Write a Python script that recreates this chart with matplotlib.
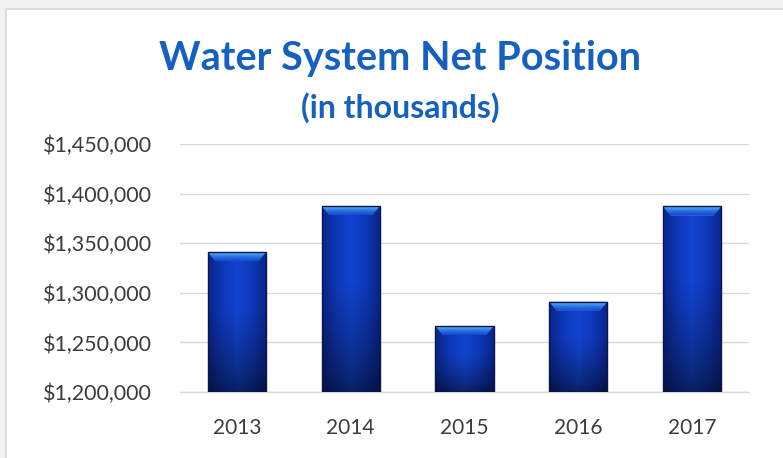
import numpy as np
import matplotlib
matplotlib.use('Agg')
import matplotlib.pyplot as plt
from matplotlib.patches import Rectangle, Polygon
from matplotlib.colors import LinearSegmentedColormap
from matplotlib.ticker import FuncFormatter

years = ['2013', '2014', '2015', '2016', '2017']
net_position = [1341000, 1387500, 1266500, 1291000, 1387000]
y_ticks = [1200000, 1250000, 1300000, 1350000, 1400000, 1450000]

plt.rcParams['font.family'] = ['Lato', 'DejaVu Sans']

fig = plt.figure(figsize=(7.83, 4.58), dpi=100)
fig.patch.set_facecolor('#f2f2f4')
# white chart card with faint border
card = Rectangle((6 / 783, -0.05), 1.0, 1 - 9 / 458 + 0.05,
                 transform=fig.transFigure, facecolor='white',
                 edgecolor='#d8d8dc', linewidth=1.2, zorder=-5)
fig.patches.append(card)

ax = fig.add_axes([180 / 783, 1 - 392 / 458, 569 / 783, 248 / 458])
ax.set_facecolor('none')
ax.set_zorder(2)

x = np.arange(len(years))
width = 0.51
bars = ax.bar(x, net_position, width=width, color='#0c2a8a',
              edgecolor='none', zorder=3)

ymin, ymax = y_ticks[0], y_ticks[-1]

# body shading: slightly darker sides, bright centre, navy toward the base
body = LinearSegmentedColormap.from_list('body', ['#0a2488', '#0e38b8', '#1244d0', '#0e38b8', '#0a2488'])
xs = np.linspace(0, 1, 200)
ys = np.linspace(0, 1, 100)[:, None]
shade = 0.45 + 0.55 * np.clip(ys / 0.6, 0, 1) ** 0.7
grad = body(xs)[None, :, :3] * shade[:, :, None]
bevel_cmap = LinearSegmentedColormap.from_list('bevel', ['#1446d0', '#2a74e2', '#62b4f6'])
bevel_img = np.repeat(bevel_cmap(np.linspace(0, 1, 50))[:, None, :3], 2, axis=1)

for b, v in zip(bars, net_position):
    x0 = b.get_x()
    w = b.get_width()
    im = ax.imshow(grad, extent=(x0, x0 + w, ymin, v), origin='lower',
                   aspect='auto', zorder=3.5, interpolation='bilinear')
    im.set_clip_path(b)
    # bevelled top edge
    bh = 9000
    inset = w * 0.13
    top = Polygon([(x0, v), (x0 + w, v), (x0 + w - inset, v - bh), (x0 + inset, v - bh)],
                  closed=True, facecolor='#3f8fe8', edgecolor='none', zorder=4)
    ax.add_patch(top)
    bim = ax.imshow(bevel_img, extent=(x0, x0 + w, v - bh, v), origin='lower',
                    aspect='auto', zorder=4.2, interpolation='bilinear')
    bim.set_clip_path(top)
    ax.add_patch(Rectangle((x0, ymin), w, v - ymin, facecolor='none',
                           edgecolor='#0a1650', linewidth=1.0, zorder=5))

ax.set_ylim(ymin, ymax)
ax.set_xlim(-0.5, len(years) - 0.5)
ax.set_yticks(y_ticks)
ax.yaxis.set_major_formatter(FuncFormatter(lambda v, p: '${:,.0f}'.format(v)))
ax.set_xticks(x)
ax.set_xticklabels(years)
ax.grid(axis='y', color='#d9d9d9', linewidth=1.0, zorder=0)
ax.set_axisbelow(True)
for s in ['top', 'right', 'left']:
    ax.spines[s].set_visible(False)
ax.spines['bottom'].set_color('#d9d9d9')
ax.spines['bottom'].set_linewidth(1.0)
ax.tick_params(axis='both', length=0, colors='#3c3c3c')
ax.tick_params(axis='y', pad=20, labelsize=15.5)
ax.tick_params(axis='x', pad=19, labelsize=15)

fig.text(0.511, 1 - 70 / 458, 'Water System Net Position', ha='center', va='baseline',
         fontsize=28.5, fontweight='bold', color='#1660c0')
fig.text(0.511, 1 - 118 / 458, '(in thousands)', ha='center', va='baseline',
         fontsize=23, fontweight='bold', color='#1660c0')

fig.savefig('out.png', dpi=100)
